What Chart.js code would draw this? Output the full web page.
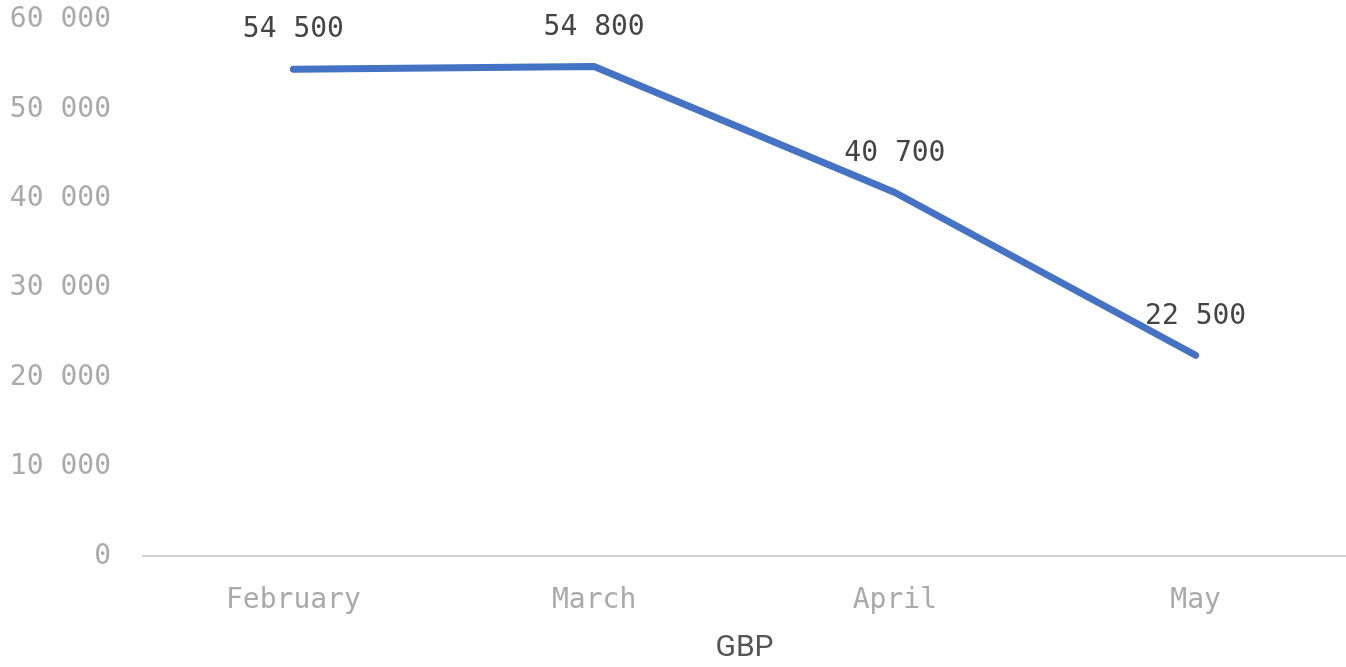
<!DOCTYPE html>
<html>
<head>
<meta charset="utf-8">
<script src="https://cdn.jsdelivr.net/npm/chart.js@4"></script>
<style>
  html, body { margin: 0; padding: 0; background: #fff; }
  #wrap { width: 1346px; height: 667px; }
</style>
</head>
<body>
<div id="wrap"><canvas id="gbpChart"></canvas></div>
<script>
const months = ['February', 'March', 'April', 'May'];
const gbpValues = [54500, 54800, 40700, 22500];
const yTicks = [0, 10000, 20000, 30000, 40000, 50000, 60000];

function spaced(v) {
  return String(v).replace(/\B(?=(\d{3})+(?!\d))/g, ' ');
}

// draws the value above each point
const valueLabels = {
  id: 'valueLabels',
  afterDatasetsDraw(chart) {
    const c = chart.ctx;
    const meta = chart.getDatasetMeta(0);
    c.save();
    c.font = '28px "DejaVu Sans Mono"';
    c.fillStyle = '#444';
    c.textAlign = 'center';
    c.textBaseline = 'middle';
    meta.data.forEach(function(pt, i) {
      c.fillText(spaced(gbpValues[i]), pt.x, pt.y - 39);
    });
    c.restore();
  }
};

const ctx = document.getElementById('gbpChart').getContext('2d');
new Chart(ctx, {
  type: 'line',
  data: {
    labels: months,
    datasets: [{
      data: gbpValues,
      borderColor: '#4472C4',
      borderWidth: 7,
      borderCapStyle: 'round',
      borderJoinStyle: 'round',
      pointRadius: 0,
      tension: 0
    }]
  },
  options: {
    responsive: true,
    maintainAspectRatio: false,
    animation: false,
    layout: { padding: { top: 20, right: 0, left: 0, bottom: -3 } },
    plugins: {
      legend: { display: false },
      tooltip: { enabled: false }
    },
    scales: {
      x: {
        offset: true,
        grid: { display: false },
        border: { display: true, color: '#d0d0d0', width: 2 },
        ticks: {
          color: '#aaa',
          font: { family: 'DejaVu Sans Mono', size: 28 },
          padding: 20
        },
        title: {
          display: true,
          text: 'GBP',
          color: '#555',
          font: { family: 'Roboto', size: 30 },
          padding: { top: -8 }
        }
      },
      y: {
        min: 0,
        max: 60000,
        afterBuildTicks(axis) {
          axis.ticks = yTicks.map(v => ({ value: v }));
        },
        afterFit(axis) {
          axis.width = 143;
          axis.paddingTop = 0;
          axis.paddingBottom = 0;
        },
        grid: { display: false },
        border: { display: false },
        ticks: {
          color: '#aaa',
          font: { family: 'DejaVu Sans Mono', size: 28 },
          padding: 24,
          callback: v => spaced(v)
        }
      }
    }
  },
  plugins: [valueLabels]
});
</script>
</body>
</html>
